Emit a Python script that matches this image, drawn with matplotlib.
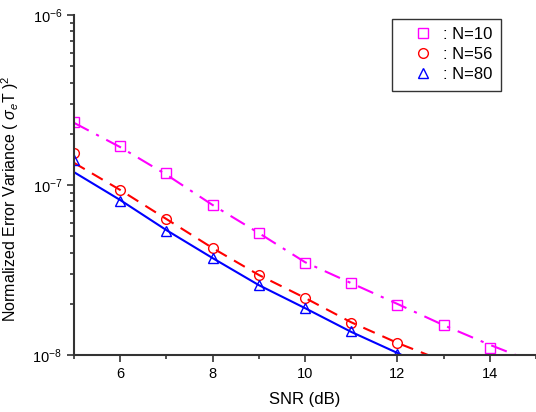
import numpy as np
import matplotlib
matplotlib.use("Agg")
import matplotlib.pyplot as plt
from matplotlib.ticker import LogLocator, LogFormatterMathtext, MultipleLocator

plt.rcParams['font.family'] = ['Liberation Sans', 'DejaVu Sans']
plt.rcParams['mathtext.fontset'] = 'custom'
plt.rcParams['mathtext.rm'] = 'Liberation Sans'
plt.rcParams['mathtext.it'] = 'Liberation Sans:italic'

# measured points (markers)
snr_10 = [5, 6, 7, 8, 9, 10, 11, 12, 13, 14]
var_10 = [2.35e-7, 1.69e-7, 1.18e-7, 7.6e-8, 5.2e-8, 3.5e-8, 2.65e-8, 1.97e-8, 1.5e-8, 1.1e-8]

snr_56 = [5, 6, 7, 8, 9, 10, 11, 12]
var_56 = [1.54e-7, 9.3e-8, 6.3e-8, 4.26e-8, 2.96e-8, 2.16e-8, 1.55e-8, 1.18e-8]

snr_80 = [5, 6, 7, 8, 9, 10, 11, 12]
var_80 = [1.4e-7, 8.05e-8, 5.4e-8, 3.7e-8, 2.57e-8, 1.9e-8, 1.38e-8, 1.02e-8]

# curves (lines)
line_x_10 = [5, 6, 7, 8, 9, 10, 11, 12, 13, 14, 14.57]
line_y_10 = [2.32e-7, 1.67e-7, 1.15e-7, 7.63e-8, 5.22e-8, 3.52e-8, 2.65e-8, 2.0e-8, 1.5e-8, 1.15e-8, 1.0e-8]
line_x_56 = [5, 6, 7, 8, 9, 10, 11, 12, 12.67]
line_y_56 = [1.35e-7, 9.35e-8, 6.31e-8, 4.26e-8, 2.96e-8, 2.17e-8, 1.56e-8, 1.18e-8, 1.0e-8]
line_x_80 = [5, 6, 7, 8, 9, 10, 11, 12, 12.1]
line_y_80 = [1.19e-7, 8.16e-8, 5.43e-8, 3.72e-8, 2.58e-8, 1.89e-8, 1.37e-8, 1.03e-8, 1.0e-8]

labels = [': N=10', ': N=56', ': N=80']

fig = plt.figure(figsize=(5.36, 4.12), dpi=100)
ax = fig.add_axes([0.138, 0.138, 0.862, 0.826])

ax.plot(line_x_10, line_y_10, color='#ff00ff', lw=1.5, dashes=(8, 4, 1.5, 4))
ax.plot(line_x_56, line_y_56, color='#ff0000', lw=1.5, dashes=(6, 4))
ax.plot(line_x_80, line_y_80, color='#0000ff', lw=1.5)

ax.plot(snr_10, var_10, 's', mfc='none', mec='#ff00ff', ms=6.5, mew=1, label=labels[0])
ax.plot(snr_56, var_56, 'o', mfc='none', mec='#ff0000', ms=7, mew=1, label=labels[1])
ax.plot(snr_80, var_80, '^', mfc='none', mec='#0000ff', ms=7, mew=1, label=labels[2])

ax.set_yscale('log')
ax.set_xlim(5, 15)
ax.set_ylim(1e-8, 1e-6)
ax.xaxis.set_minor_locator(MultipleLocator(1))
ax.set_xticks([6, 8, 10, 12, 14])
ax.yaxis.set_major_locator(LogLocator(base=10))
ax.yaxis.set_minor_locator(LogLocator(base=10, subs=np.arange(2, 10)))
ax.yaxis.set_major_formatter(LogFormatterMathtext())

for s in ['top', 'right']:
    ax.spines[s].set_visible(False)
for s in ['left', 'bottom']:
    ax.spines[s].set_color('#333333')
    ax.spines[s].set_linewidth(1.5)

ax.tick_params(which='both', direction='out', color='#333333', width=1.2)
ax.tick_params(which='major', length=5, labelsize=10.5)
ax.tick_params(which='minor', length=3)

ax.set_xlabel('SNR (dB)', fontsize=12, labelpad=8)
ax.set_ylabel(r'Normalized Error Variance ( $\sigma_{e}$T )$^{2}$', fontsize=11.5)
ax.yaxis.set_label_coords(-0.115, 0.459)

leg = ax.legend(loc='upper right', bbox_to_anchor=(0.9246, 0.988), borderaxespad=0,
                fontsize=12, frameon=True, fancybox=False, edgecolor='black',
                handlelength=2.8, handletextpad=-0.2, borderpad=0.5, labelspacing=0.3)
leg.get_frame().set_linewidth(1.0)

fig.savefig('out.png', dpi=100)
